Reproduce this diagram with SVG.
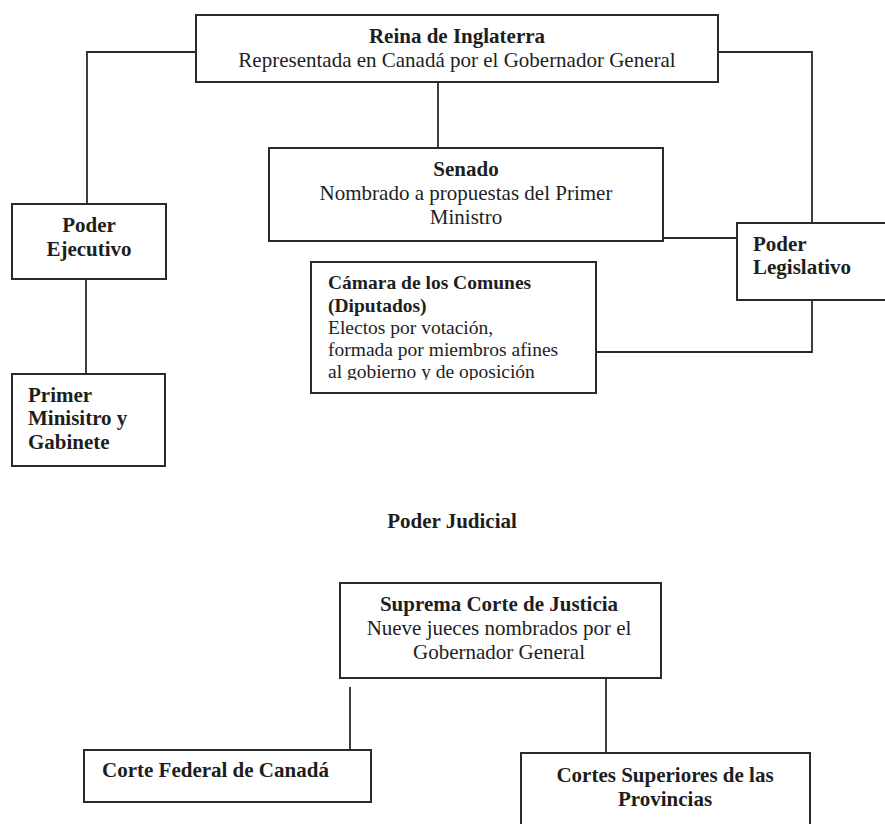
<svg xmlns="http://www.w3.org/2000/svg" width="885" height="824" viewBox="0 0 885 824">
<defs>
<style>
.box{fill:#fff;stroke:#2a2a2a;stroke-width:2}
.ln{fill:none;stroke:#2a2a2a;stroke-width:1.8}
text{font-family:"Liberation Serif","Times New Roman",serif;font-size:21px;fill:#1e1e1e}
.b{font-weight:bold}
.c{text-anchor:middle}
.s{font-size:19.5px}
</style>
<clipPath id="camClip"><rect x="311" y="262" width="285" height="118"/></clipPath>
</defs>
<rect width="885" height="824" fill="#fff"/>
<g id="connectors">
<path class="ln" d="M196,52 H87 V204"/>
<path class="ln" d="M718,52 H812 V223"/>
<path class="ln" d="M438,82 V148"/>
<path class="ln" d="M663,238 H737"/>
<path class="ln" d="M86,279 V374"/>
<path class="ln" d="M596,352 H812 V300"/>
<path class="ln" d="M350,687 V750"/>
<path class="ln" d="M606,678 V753"/>
</g>
<g id="reina">
<rect class="box" x="196" y="15" width="522" height="67"/>
<text class="b c" x="457" y="43">Reina de Inglaterra</text>
<text class="c" x="457" y="67">Representada en Canadá por el Gobernador General</text>
</g>
<g id="senado">
<rect class="box" x="269" y="148" width="394" height="93"/>
<text class="b c" x="466" y="176">Senado</text>
<text class="c" x="466" y="200">Nombrado a propuestas del Primer</text>
<text class="c" x="466" y="224">Ministro</text>
</g>
<g id="ejecutivo">
<rect class="box" x="12" y="204" width="154" height="75"/>
<text class="b c" x="89" y="232">Poder</text>
<text class="b c" x="89" y="256">Ejecutivo</text>
</g>
<g id="legislativo">
<rect class="box" x="737" y="223" width="160" height="77"/>
<text class="b" x="753" y="251">Poder</text>
<text class="b" x="753" y="274">Legislativo</text>
</g>
<g id="camara">
<rect class="box" x="311" y="262" width="285" height="131"/>
<g clip-path="url(#camClip)">
<text class="b s" x="328" y="289">Cámara de los Comunes</text>
<text class="b s" x="328" y="312">(Diputados)</text>
<text class="s" x="328" y="334">Electos por votación,</text>
<text class="s" x="328" y="356">formada por miembros afines</text>
<text class="s" x="328" y="378">al gobierno y de oposición</text>
</g>
</g>
<g id="primer-ministro">
<rect class="box" x="12" y="374" width="153" height="92"/>
<text class="b" x="28" y="402">Primer</text>
<text class="b" x="28" y="425">Minisitro y</text>
<text class="b" x="28" y="449">Gabinete</text>
</g>
<g id="poder-judicial">
<text class="b c" x="452" y="528">Poder Judicial</text>
</g>
<g id="suprema">
<rect class="box" x="340" y="583" width="321" height="95"/>
<text class="b c" x="499" y="611">Suprema Corte de Justicia</text>
<text class="c" x="499" y="635">Nueve jueces nombrados por el</text>
<text class="c" x="499" y="659">Gobernador General</text>
</g>
<g id="corte-federal">
<rect class="box" x="84" y="750" width="287" height="52"/>
<text class="b" x="102" y="777">Corte Federal de Canadá</text>
</g>
<g id="cortes-superiores">
<rect class="box" x="521" y="753" width="289" height="90"/>
<text class="b c" x="665" y="782">Cortes Superiores de las</text>
<text class="b c" x="665" y="806">Provincias</text>
</g>
</svg>
